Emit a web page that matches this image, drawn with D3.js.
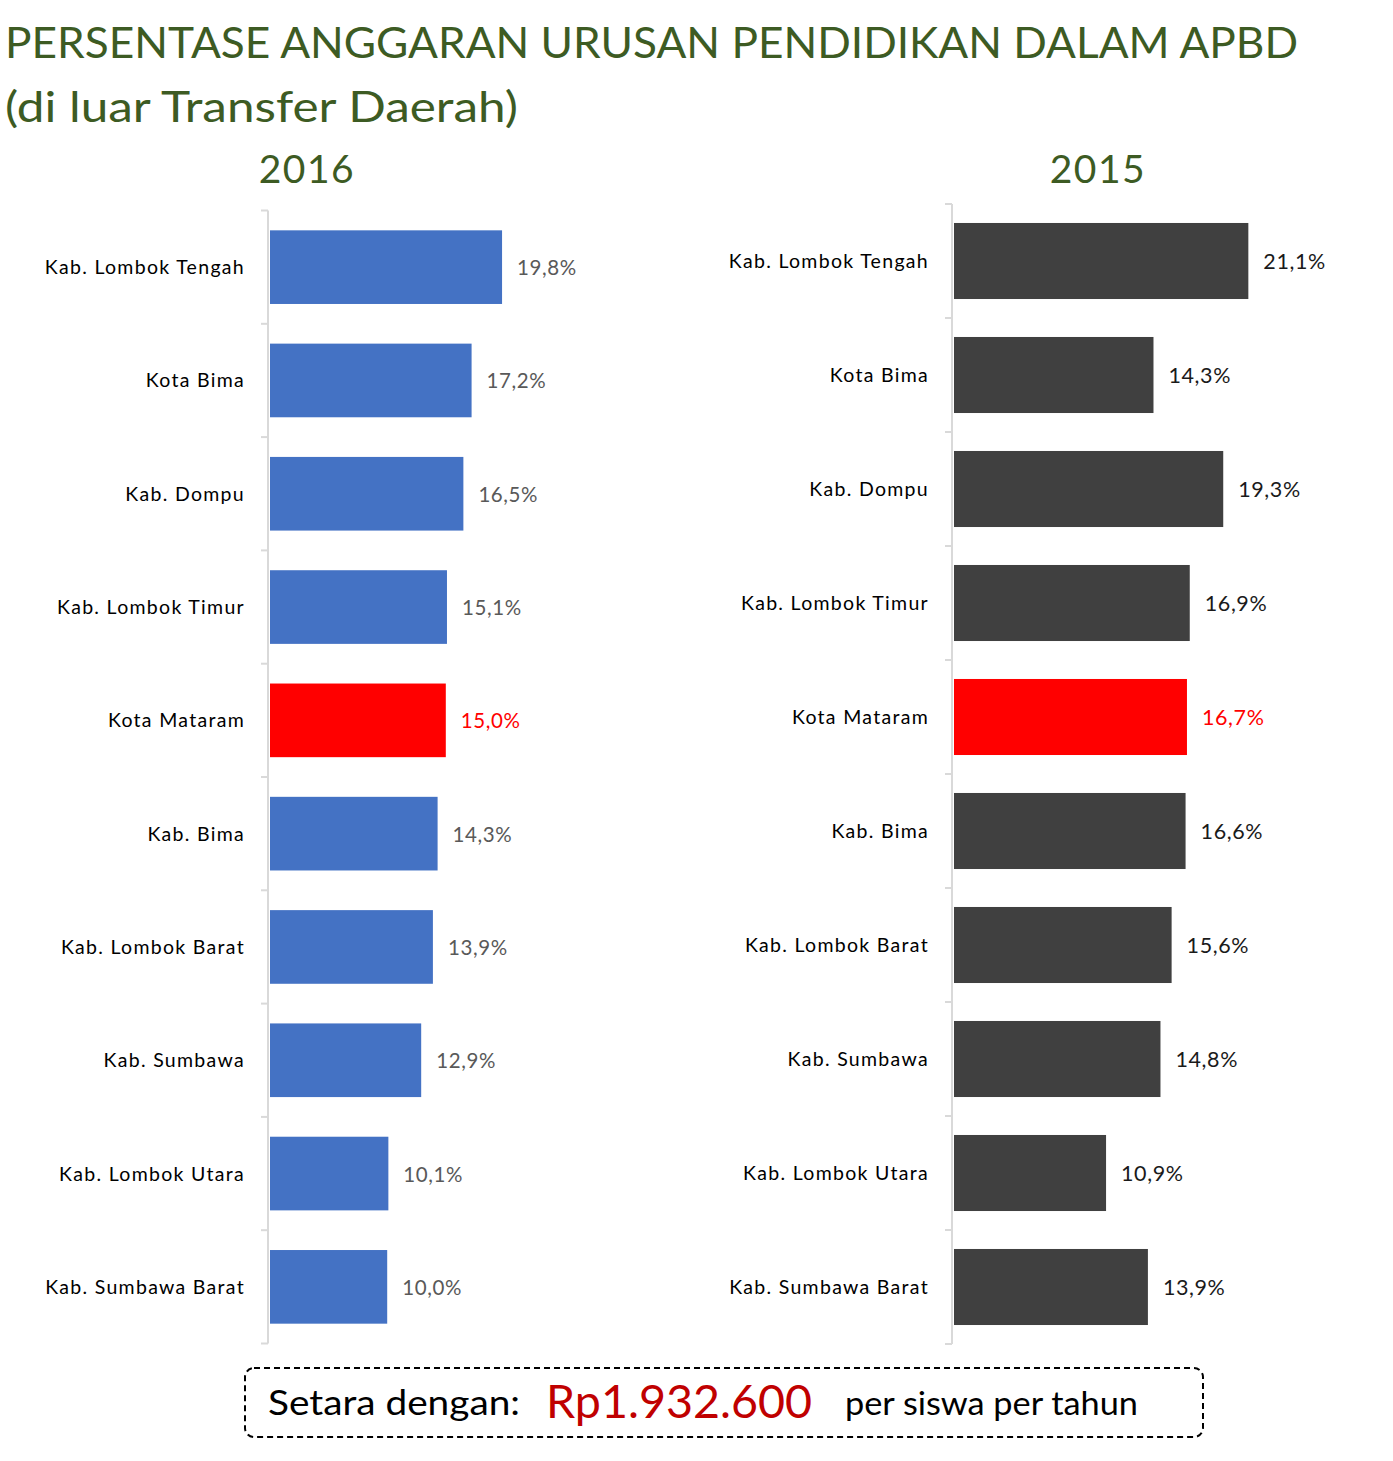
<!DOCTYPE html>
<html>
<head>
<meta charset="utf-8">
<script src="https://cdn.jsdelivr.net/npm/d3@7"></script>
<style>
  body { margin: 0; background: #fff; }
  svg { display: block; font-family: Lato, "Open Sans", sans-serif; }
</style>
</head>
<body>
<svg id="chart" width="1393" height="1461"></svg>
<script>
// data
const categories = ["Kab. Lombok Tengah", "Kota Bima", "Kab. Dompu", "Kab. Lombok Timur", "Kota Mataram",
  "Kab. Bima", "Kab. Lombok Barat", "Kab. Sumbawa", "Kab. Lombok Utara", "Kab. Sumbawa Barat"];
const values2016 = [19.8, 17.2, 16.5, 15.1, 15.0, 14.3, 13.9, 12.9, 10.1, 10.0];
const values2015 = [21.1, 14.3, 19.3, 16.9, 16.7, 16.6, 15.6, 14.8, 10.9, 13.9];
const highlight = "Kota Mataram";

const titleLines = ["PERSENTASE ANGGARAN URUSAN PENDIDIKAN DALAM APBD", "(di luar Transfer Daerah)"];
const years = ["2016", "2015"];
const noteParts = ["Setara dengan:", "Rp1.932.600", "per siswa per tahun"];

const green = "#3d5b23";
const svg = d3.select("#chart");

// title
svg.append("text").attr("x", 5).attr("y", 58)
  .attr("font-size", 43).attr("fill", green)
  .attr("textLength", 1293).attr("lengthAdjust", "spacingAndGlyphs")
  .text(titleLines[0]);
svg.append("text").attr("x", 5).attr("y", 122)
  .attr("font-size", 43).attr("fill", green)
  .attr("textLength", 513).attr("lengthAdjust", "spacingAndGlyphs")
  .text(titleLines[1]);

const fmt = v => d3.format(".1f")(v).replace(".", ",") + "%";

function panel(opts) {
  const data = categories.map((c, i) => ({ cat: c, v: opts.values[i] }));

  const x = d3.scaleLinear().domain([0, 25]).range([opts.x0, opts.x0 + 25 * opts.pxPer]);
  const y = d3.scaleBand().domain(categories)
    .range([opts.top, opts.bottom])
    .paddingInner(opts.pad).paddingOuter(opts.pad / 2);

  const g = svg.append("g");

  g.append("text")
    .attr("x", opts.yearX).attr("y", 183)
    .attr("text-anchor", "middle")
    .attr("font-size", 39).attr("fill", green)
    .attr("letter-spacing", 1.5)
    .text(opts.year);

  // axis line with boundary ticks
  g.append("line")
    .attr("x1", opts.axisX).attr("x2", opts.axisX)
    .attr("y1", opts.top).attr("y2", opts.bottom)
    .attr("stroke", "#d9d9d9").attr("stroke-width", 2);
  g.selectAll(".bt").data(d3.range(categories.length + 1))
    .join("line")
    .attr("x1", opts.axisX - 7).attr("x2", opts.axisX)
    .attr("y1", k => opts.top + k * y.step()).attr("y2", k => opts.top + k * y.step())
    .attr("stroke", "#d9d9d9").attr("stroke-width", 2);

  // category labels
  const ax = g.append("g")
    .attr("transform", `translate(${opts.axisX},0)`)
    .call(d3.axisLeft(y).tickSize(0).tickPadding(23));
  ax.select(".domain").remove();
  ax.selectAll("text")
    .attr("font-family", "Lato, sans-serif")
    .attr("font-size", 19.5)
    .attr("letter-spacing", 1.3)
    .attr("fill", "#000")
    .attr("dy", "0.36em");

  g.selectAll("rect").data(data)
    .join("rect")
    .attr("x", x(0))
    .attr("y", d => y(d.cat))
    .attr("width", d => x(d.v) - x(0))
    .attr("height", y.bandwidth())
    .attr("fill", d => d.cat === highlight ? "#ff0000" : opts.color);

  g.selectAll(".val").data(data)
    .join("text")
    .attr("class", "val")
    .attr("x", d => x(d.v) + 15)
    .attr("y", d => y(d.cat) + y.bandwidth() / 2 + 8)
    .attr("font-size", opts.valSize)
    .attr("letter-spacing", 0.6)
    .attr("fill", d => d.cat === highlight ? "#ff0000" : opts.labelColor)
    .text(d => fmt(d.v));
}

panel({ values: values2016, year: years[0], yearX: 307, axisX: 268, x0: 270, pxPer: 11.72,
  top: 210.5, bottom: 1343.5, pad: 0.35, color: "#4472c4", labelColor: "#595959", valSize: 20.5 });
panel({ values: values2015, year: years[1], yearX: 1098, axisX: 952, x0: 954, pxPer: 13.95,
  top: 204, bottom: 1344, pad: 0.333, color: "#404040", labelColor: "#1a1a1a", valSize: 21.5 });

// note box
svg.append("rect")
  .attr("x", 245).attr("y", 1368).attr("width", 958).attr("height", 69)
  .attr("rx", 9)
  .attr("fill", "none").attr("stroke", "#000").attr("stroke-width", 2)
  .attr("stroke-dasharray", "6,4");
svg.append("text").attr("x", 268).attr("y", 1415)
  .attr("font-size", 34).attr("fill", "#000")
  .attr("textLength", 252).attr("lengthAdjust", "spacingAndGlyphs")
  .text(noteParts[0]);
svg.append("text").attr("x", 546).attr("y", 1418)
  .attr("font-size", 46).attr("fill", "#c00000")
  .attr("textLength", 266).attr("lengthAdjust", "spacingAndGlyphs")
  .text(noteParts[1]);
svg.append("text").attr("x", 845).attr("y", 1415)
  .attr("font-size", 32).attr("fill", "#000")
  .attr("textLength", 293).attr("lengthAdjust", "spacingAndGlyphs")
  .text(noteParts[2]);
</script>
</body>
</html>
